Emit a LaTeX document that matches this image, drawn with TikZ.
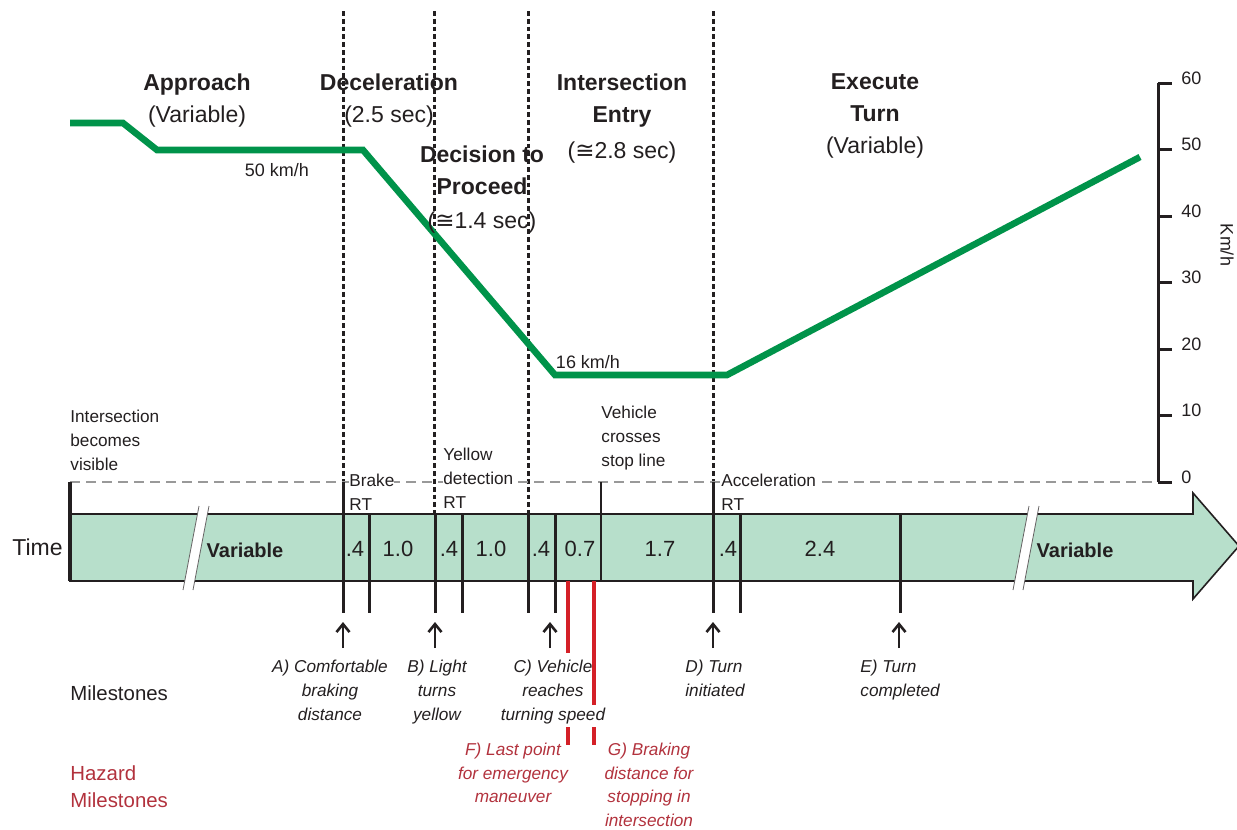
\documentclass[tikz,border=0pt]{standalone}
\usepackage{fontspec}
\setmainfont{Liberation Sans}
\newfontfamily\symfont{DejaVu Sans}
\usetikzlibrary{arrows.meta}
\definecolor{ink}{HTML}{231F20}
\definecolor{speed}{HTML}{00934A}
\definecolor{band}{HTML}{B7DFCB}
\definecolor{hazard}{HTML}{D42027}
\definecolor{hazardtext}{HTML}{B2323D}
\definecolor{guide}{HTML}{999999}
\newcommand{\about}{{\symfont ≅}}
\tikzset{
  phase/.style={align=center, inner sep=0pt, anchor=north, text=ink,
    font=\fontsize{11.5}{16}\selectfont},
  note/.style={align=left, inner sep=0pt, anchor=north west, text=ink,
    font=\fontsize{8.6}{12}\selectfont},
  seg/.style={inner sep=0pt, text=ink, font=\fontsize{11}{13}\selectfont},
  mile/.style={align=center, inner sep=0pt, anchor=north, text=ink,
    font=\fontsize{8.6}{12}\selectfont\itshape},
  hazmile/.style={mile, text=hazardtext, font=\fontsize{8.6}{11.7}\selectfont\itshape},
  phaseline/.style={draw=ink, line width=1.5pt, dash pattern=on 2.4pt off 1.5pt},
  tick/.style={draw=ink, line width=1.5pt},
  pointer/.style={draw=ink, line width=1.3pt, -{Straight Barb[length=4pt,width=6.5pt]}},
  redmark/.style={draw=hazard, line width=2pt}
}
\begin{document}
\begin{tikzpicture}[x=0.5pt, y=-0.5pt]
\useasboundingbox (0,0) rectangle (1237,830);

% phase boundaries
\draw[phaseline] (343,11) -- (343,482);
\draw[phaseline] (434,11) -- (434,514);
\draw[phaseline] (528,11) -- (528,514);
\draw[phaseline] (713,11) -- (713,482);

% speed axis
\draw[guide, line width=1.2pt, dash pattern=on 5pt off 3pt] (70,482) -- (1158,482);
\draw[ink, line width=1.5pt] (1158,83) -- (1158,482);
\foreach \v in {0,...,6} {
  \draw[ink, line width=1.5pt] (1158,482-66.5*\v) -- ++(14,0);
  \node[anchor=west, inner sep=0pt, text=ink, font=\fontsize{9}{10}\selectfont]
    (ax\v) at (1181,477-66.5*\v) {\the\numexpr\v*10\relax};
}
\node[rotate=-90, inner sep=0pt, text=ink, font=\fontsize{9}{10}\selectfont] (unit) at (1227,245) {Km/h};

% speed profile
\draw[speed, line width=3.3pt] (70,123) -- (123,123) -- (157,150) -- (363,150)
  -- (555,375) -- (727,375) -- (1140,157);
\node[inner sep=0pt, text=ink, font=\fontsize{9}{10}\selectfont] (v50) at (277,170) {50 km/h};
\node[inner sep=0pt, text=ink, font=\fontsize{9}{10}\selectfont] (v16) at (588,362) {16 km/h};

% phase headings
\node[phase] (ap) at (197,73) {\textbf{Approach}\\(Variable)};
\node[phase] (dc) at (389,73) {\textbf{Deceleration}\\(2.5 sec)};
\node[phase] (dp) at (482,145) {\textbf{Decision to}\\\textbf{Proceed}\\[1pt](\about1.4 sec)};
\node[phase] (ie) at (622,73) {\textbf{Intersection}\\\textbf{Entry}\\[2pt](\about2.8 sec)};
\node[phase] (et) at (875,73) {\textbf{Execute}\\\textbf{Turn}\\(Variable)};

% time band
\filldraw[fill=band, draw=ink, line width=0.8pt] (70,514) -- (1193,514) -- (1193,493)
  -- (1239,546) -- (1193,599) -- (1193,581) -- (70,581) -- cycle;
\foreach \a in {183,1013} {
  \fill[white] (\a,590) -- (\a+16,506) -- (\a+26,506) -- (\a+10,590) -- cycle;
  \draw[ink!70, line width=0.4pt] (\a,590) -- (\a+16,506);
  \draw[ink!70, line width=0.4pt] (\a+10,590) -- (\a+26,506);
}
\draw[ink, line width=1.6pt] (70,482) -- (70,581);
\draw[tick] (343,482) -- (343,613);
\draw[tick] (713,482) -- (713,613);
\foreach \x in {369,435,462,528,555,740,900}
  \draw[tick] (\x,514) -- (\x,613);
\draw[ink, line width=0.9pt] (601,482) -- (601,581);

\node[anchor=west, inner sep=0pt, text=ink, font=\fontsize{11.5}{13}\selectfont] (time) at (12,547) {Time};
\node[seg, font=\fontsize{10}{12}\selectfont\bfseries] (var1) at (245,550) {Variable};
\node[seg, font=\fontsize{10}{12}\selectfont\bfseries] (var2) at (1075,550) {Variable};
\foreach \x/\t in {355/.4, 398/1.0, 449/.4, 491/1.0, 541/.4, 580/0.7, 660/1.7, 728/.4, 820/2.4}
  \node[seg] at (\x,549) {\t};

% event notes
\node[note] (vis) at (70,410) {Intersection\\becomes\\visible};
\node[note, fill=white] (brk) at (349,474) {Brake\\RT};
\node[note, fill=white] (ylw) at (443,448) {Yellow\\detection\\RT};
\node[note] (stp) at (601,406) {Vehicle\\crosses\\stop line};
\node[note, fill=white] (acc) at (721,474) {Acceleration\\RT};

% milestones
\foreach \n/\x in {A/343, B/435, C/550, D/713, E/899} {
  \coordinate (m\n) at (\x,648);
  \coordinate (t\n) at (\x,622);
  \draw[pointer] (m\n) -- (t\n);
}
\node[mile] (lA) at (330,660) {A) Comfortable\\braking\\distance};
\node[mile] (lB) at (437,660) {B) Light\\turns\\yellow};
\node[mile] (lC) at (553,660) {C) Vehicle\\reaches\\turning speed};
\node[mile, align=left, anchor=north west] (lD) at (685,660) {D) Turn\\initiated};
\node[mile, align=left, anchor=north west] (lE) at (860,660) {E) Turn\\completed};

% hazard milestones
\draw[redmark] (568,581) -- (568,653);
\draw[redmark] (568,727) -- (568,745);
\draw[redmark] (594,581) -- (594,705);
\draw[redmark] (594,727) -- (594,745);
\node[hazmile] (lF) at (513,743) {F) Last point\\for emergency\\maneuver};
\node[hazmile] (lG) at (649,743) {G) Braking\\distance for\\stopping in\\intersection};

\node[anchor=west, inner sep=0pt, text=ink, font=\fontsize{10.2}{12}\selectfont] (ms) at (70,693) {Milestones};
\node[anchor=north west, align=left, inner sep=0pt, text=hazardtext,
  font=\fontsize{10.2}{13.5}\selectfont] (hz) at (70,765) {Hazard\\Milestones};
\end{tikzpicture}
\end{document}
